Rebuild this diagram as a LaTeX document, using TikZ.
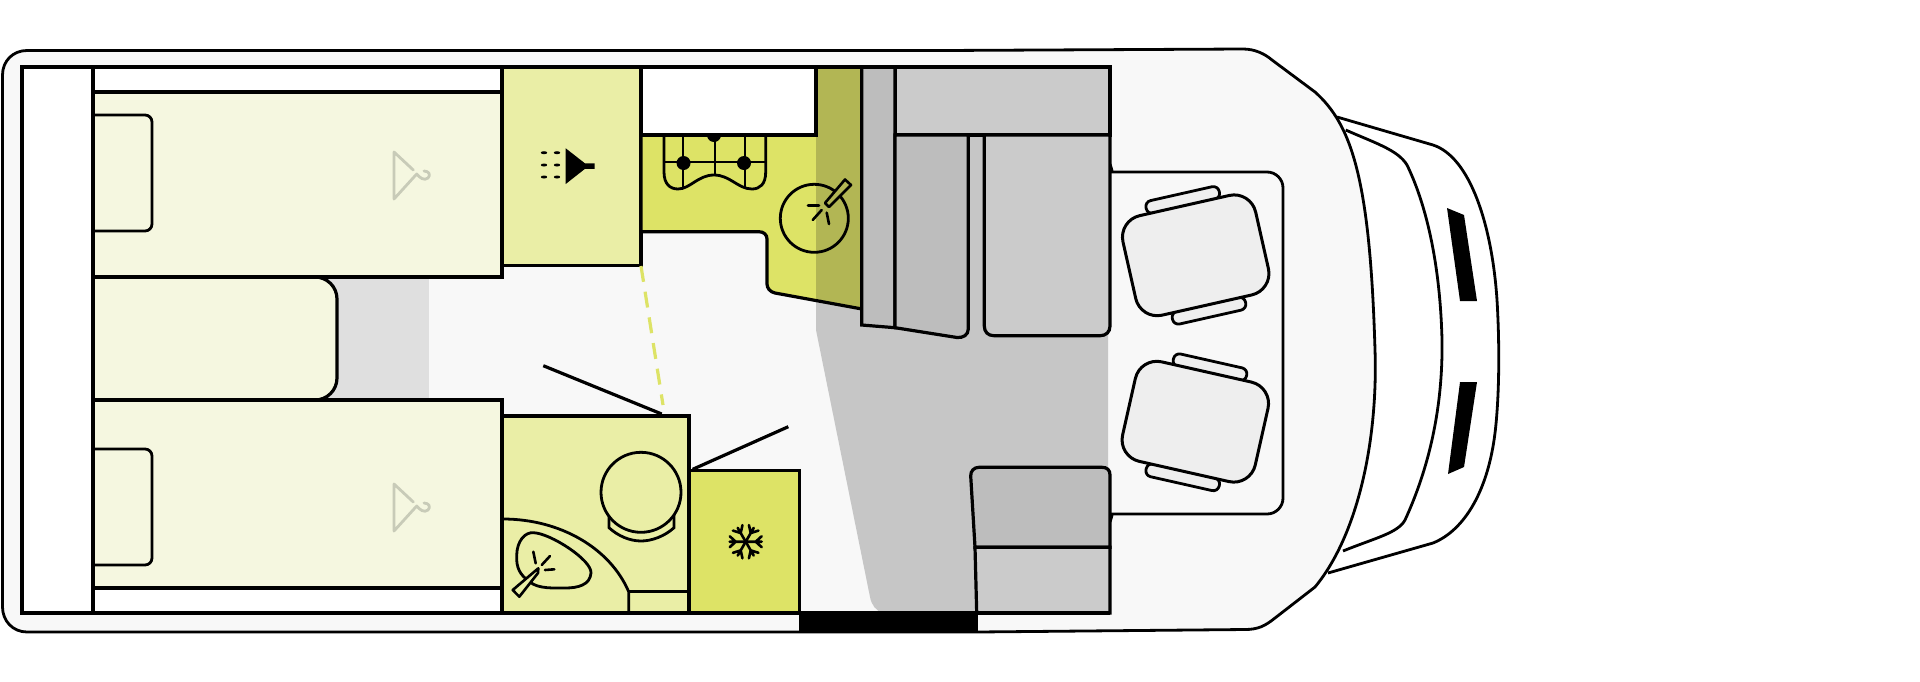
\documentclass[tikz,border=0pt]{standalone}
\usepackage{xcolor}
\definecolor{floorColor}{HTML}{F8F8F8}
\definecolor{bedColor}{HTML}{F5F7E0}
\definecolor{bathColor}{HTML}{EAEEA6}
\definecolor{kitchenColor}{HTML}{DDE366}
\definecolor{bandColor}{HTML}{B2B654}
\definecolor{aisleColor}{HTML}{C6C6C6}
\definecolor{shadeColor}{HTML}{DFDFDF}
\definecolor{cabinetColor}{HTML}{CBCBCB}
\definecolor{cabinetDark}{HTML}{BDBDBD}
\definecolor{seatColor}{HTML}{EEEEEE}
\definecolor{hangerColor}{HTML}{C8CBB8}
\tikzset{
  wall/.style={black, line width=1.6pt},
  thinwall/.style={black, line width=1.4pt},
  seatbox/.style={draw=black, line width=1.5pt, fill=seatColor, minimum width=68pt, minimum height=51pt, inner sep=0pt, rounded corners=11pt},
  armrest/.style={draw=black, line width=1.4pt, fill=seatColor, minimum width=37.5pt, minimum height=6.5pt, inner sep=0pt, rounded corners=3pt},
  hanger/.style={draw=hangerColor, line width=1.4pt, line cap=round, line join=round},
}
\begin{document}
\begin{tikzpicture}[x=0.5pt, y=-0.5pt]
  \useasboundingbox (0,0) rectangle (1920,681);

  % cab windscreen
  \draw[thinwall] (1337,117) -- (1433,145) .. controls (1470,157) and (1492,225) .. (1497,300) .. controls (1500,350) and (1499,400) .. (1495,433) .. controls (1488,490) and (1465,530) .. (1433,543) -- (1328,573);
  \draw[thinwall] (1345.7,130) .. controls (1375,143) and (1398,150) .. (1407,165) .. controls (1425,202) and (1440,260) .. (1442,340) .. controls (1443,410) and (1428,470) .. (1405,520) .. controls (1398,533) and (1375,538) .. (1343,551);
  \fill[black] (1447,208) -- (1464,215) -- (1477,301) -- (1460,301) -- cycle;
  \fill[black] (1460,382) -- (1477,382) -- (1464,467) -- (1448,474) -- cycle;

  % shell
  \draw[thinwall, fill=floorColor] (27,50.5) -- (943,50.5) -- (1243,49) .. controls (1255,49) and (1265,54) .. (1272,60) -- (1315,92) .. controls (1352,125) and (1370,180) .. (1375,350) .. controls (1378,440) and (1358,535) .. (1315,587) -- (1275,618) .. controls (1265,626) and (1258,629.5) .. (1245,629.5) -- (977,632) -- (27,632) .. controls (13,632) and (2.5,621) .. (2.5,607) -- (2.5,75) .. controls (2.5,61) and (13,50.5) .. (27,50.5) -- cycle;

  % floor shades
  \fill[shadeColor] (320,277) rectangle (429,400);
  \fill[aisleColor] (816,135) -- (816,330) -- (870,597) .. controls (871.5,605) and (876,611) .. (883,613) -- (1108,613) -- (1108,135) -- cycle;

  % white rooms in the back
  \fill[white] (22,67) rectangle (93,613);
  \fill[white] (93,67) rectangle (502,92);
  \fill[white] (93,588) rectangle (502,613);

  % seat bench line
  \draw[thinwall, rounded corners=8pt] (1110,164) .. controls (1111,169) and (1115,172) .. (1122,172) -- (1283,172) -- (1283,514) -- (1122,514) .. controls (1115,514) and (1111,517) .. (1110,522);

  % beds
  \draw[wall, fill=bedColor, rounded corners=11pt] (93,277) -- (337,277) -- (337,400) -- (93,400);
  \draw[wall, fill=bedColor] (93,92) rectangle (502,277);
  \draw[wall, fill=bedColor] (93,400) rectangle (502,588);
  \draw[thinwall, rounded corners=3.5pt] (93,115) -- (152,115) -- (152,231) -- (93,231);
  \draw[thinwall, rounded corners=3.5pt] (93,449) -- (152,449) -- (152,565) -- (93,565);
  \foreach \y in {152,484}
  \draw[hanger] (413.3,\y+18) -- (394,\y) -- (394,\y+47) -- (416.7,\y+22) .. controls (420,\y+26) and (424,\y+29) .. (428,\y+26) .. controls (431,\y+23) and (429,\y+19) .. (424,\y+19);

  % shower
  \draw[wall, fill=bathColor] (502,67) rectangle (641,265.7);
  \fill[black] (565.7,148.3) -- (565.7,184) -- (585,168.8) -- (594.7,168.8) -- (594.7,163.4) -- (585,163.4) -- cycle;
  \foreach \x in {544,557}
  \foreach \y in {152.7,165,177}
  \fill[black] (\x,\y) ellipse (3.2 and 1.5);
  \draw[kitchenColor, line width=1.6pt, dash pattern=on 8pt off 5pt] (641,266) -- (663,405);

  % kitchen
  \fill[kitchenColor] (641,135) -- (862,135) -- (862,309) -- (775,293) .. controls (770,292) and (767,288) .. (767,284) -- (767,239) .. controls (767,235) and (764,231.7) .. (759,231.7) -- (641,231.7) -- cycle;
  \fill[bandColor] (816,67) -- (862,67) -- (862,309) -- (816,300.5) -- cycle;
  \draw[wall] (862,309) -- (775,293) .. controls (770,292) and (767,288) .. (767,284) -- (767,239) .. controls (767,235) and (764,231.7) .. (759,231.7) -- (641,231.7) -- (641,135);
  \draw[thinwall] (664,135) -- (664,172) .. controls (664,184) and (670,189) .. (678,189) .. controls (690,189) and (698,175) .. (714,175) .. controls (730,175) and (738,189) .. (752,189) .. controls (760,189) and (765.7,184) .. (765.7,172) -- (765.7,135);
  \foreach \x/\yend in {682.7/188,714.7/175,745/188}
  \draw[black, line width=1pt] (\x,135) -- (\x,\yend);
  \draw[black, line width=1pt] (664,162.3) -- (765.7,162.3);
  \foreach \x/\y in {683.5/163,744/163,714/135}
  \fill[black] (\x,\y) circle (7);
  \draw[wall, fill=white] (641,67) rectangle (816,135);
  \draw[thinwall] (814.3,218.3) circle (34);
  \draw[black, line width=1.3pt, fill=bandColor, line join=round] (825,203) -- (845,179.5) -- (851,185) -- (829,207) -- cycle;
  \draw[black, line width=1.3pt, line cap=round] (808,205.7) -- (819,205.7);
  \draw[black, line width=1.3pt, line cap=round] (812.7,220) -- (821.7,210);
  \draw[black, line width=1.3pt, line cap=round] (826.7,212.7) -- (829,224);

  % doors
  \draw[wall] (543.3,365.7) -- (661.7,414);
  \draw[wall] (788.3,426.7) -- (692.7,469.3);

  % toilet room
  \draw[wall, fill=bathColor] (502,416) rectangle (689,613);
  \draw[thinwall] (503,519) .. controls (560,519) and (610,548) .. (628.7,591.7) -- (628.7,613);
  \draw[thinwall] (628.7,591.7) -- (689,591.7);
  \draw[thinwall, fill=bathColor] (609,515) -- (609,527.7) .. controls (618,536) and (630,541) .. (641,541) .. controls (652,541) and (665,536) .. (674,527.7) -- (674,515);
  \draw[thinwall, fill=bathColor] (641,492.3) circle (40);
  \draw[thinwall] (530,582) .. controls (520,575) and (516,568) .. (516.7,555) .. controls (517,541) and (525,532) .. (533.3,532.7) .. controls (550,533) and (592,560) .. (591,573) .. controls (590,585) and (578,588) .. (565,588) .. controls (555,588) and (538,589) .. (530,582);
  \draw[black, line width=1.3pt, fill=bathColor, line join=round] (538.3,568.3) -- (512.7,590) -- (519.3,596.7) -- (538,573) -- cycle;
  \draw[black, line width=1.3pt, line cap=round] (533.3,551.7) -- (535.7,563.3);
  \draw[black, line width=1.3pt, line cap=round] (541.7,565) -- (550,556);
  \draw[black, line width=1.3pt, line cap=round] (545,570) -- (554.3,569.3);

  % fridge
  \draw[wall, fill=kitchenColor] (689,470.7) rectangle (799.3,613);
  \foreach \a in {0,60,...,300}
  \draw[black, line width=1.3pt, line cap=round, shift={(745.7,541.7)}, rotate=\a] (0,0) -- (16,0) (10,0) -- (16,-5.5) (10,0) -- (16,5.5);

  % cabinets
  \draw[wall, fill=cabinetColor] (895,67) rectangle (1110,135);
  \draw[wall, fill=cabinetDark] (861.7,67) -- (895,67) -- (895,327.7) -- (861.7,325) -- cycle;
  \draw[wall, fill=cabinetDark] (895,135) -- (968.3,135) -- (968.3,329) .. controls (968.3,335) and (963,338) .. (957,337.5) -- (895,327.7) -- cycle;
  \draw[wall, fill=cabinetColor] (984.3,135) -- (984.3,326) .. controls (984.3,332) and (988,335.7) .. (994,335.7) -- (1100,335.7) .. controls (1106,335.7) and (1110,332) .. (1110,326) -- (1110,135) -- cycle;
  \draw[wall, fill=cabinetDark] (975,547.3) -- (970.7,476) .. controls (970.5,471) and (974,467.3) .. (979,467.3) -- (1102,467.3) .. controls (1107,467.3) and (1110,470) .. (1110,475) -- (1110,547.3) -- cycle;
  \draw[wall, fill=cabinetColor] (975,547.3) -- (976.7,613) -- (1110,613) -- (1110,547.3) -- cycle;
  \draw[wall] (1110,613) -- (22,613) -- (22,67) -- (1110,67);
  \draw[wall] (93,67) -- (93,613);

  % entrance step
  \fill[black] (799,611.7) rectangle (977.7,632.7);

  % cab seats
  \node[armrest, rotate=12.7] (armTopA) at (1182.7,200) {};
  \node[armrest, rotate=12.7] (armTopB) at (1209,310.7) {};
  \node[seatbox, rotate=12.7] (seatTop) at (1195.7,255.3) {};
  \node[armrest, rotate=-12.7] (armLowA) at (1210,367.3) {};
  \node[armrest, rotate=-12.7] (armLowB) at (1182.7,477.3) {};
  \node[seatbox, rotate=-12.7] (seatLow) at (1195.3,421.7) {};
\end{tikzpicture}
\end{document}
